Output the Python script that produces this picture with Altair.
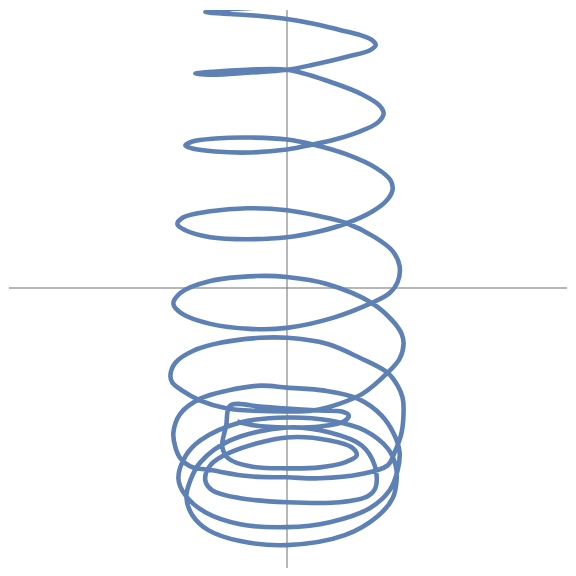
import altair as alt
import pandas as pd

# Curve points (axes cross at 287, 287)
xs = [345, 323, 287, 250, 222, 205,
      230, 260, 287, 315, 340, 360, 372, 376, 371, 347, 313, 287, 247, 213, 195,
      213, 247, 287, 330, 363, 380, 384, 378, 360, 335, 313, 287, 250, 215, 192, 185,
      192, 215, 250, 287, 313, 347, 377, 391, 393, 388, 373, 347, 320, 287, 247, 210, 185, 177,
      183, 210, 247, 287, 320, 347, 375, 393, 400, 398, 390, 372, 333, 287, 250, 210, 182, 173,
      180, 210, 257, 287, 327, 372, 393, 402, 404, 400, 388, 363, 340, 313, 287, 250, 227, 200, 182, 172, 170,
      175, 193, 220, 260, 287, 327, 360, 388, 398, 403, 404,
      402, 395, 388, 360, 320, 287, 250, 212, 190, 180, 175, 173,
      180, 200, 227, 260, 287, 325, 358, 382, 395, 400,
      398, 390, 370, 330, 287, 240, 205, 185, 178,
      185, 200, 240, 287, 330, 365, 388, 396, 397,
      393, 378, 345, 287, 240, 208, 192, 186,
      190, 200, 230, 287, 330, 362, 375, 376,
      368, 340, 287, 240, 212, 205,
      210, 230, 287, 330, 352, 357,
      345, 320, 287, 250, 228, 222,
      226, 230, 260, 287, 320, 342, 349,
      344, 320, 287, 255, 237]
ys = [-4, 0, 3, 6, 8, 10,
      12, 14, 17, 22, 28, 33, 38, 43, 48, 55, 63, 68, 71, 73, 72,
      70, 68, 68, 80, 93, 104, 112, 121, 130, 138, 143, 148, 151, 150, 147, 144,
      140, 137, 136, 138, 143, 153, 167, 179, 188, 198, 210, 222, 230, 236, 238, 236, 229, 223,
      216, 210, 207, 209, 215, 222, 236, 250, 265, 281, 292, 302, 317, 327, 328, 323, 313, 303,
      292, 280, 275, 276, 283, 302, 320, 333, 343, 358, 372, 393, 403, 410, 411, 410, 408, 400, 390, 382, 375,
      362, 350, 342, 337, 337, 343, 357, 372, 385, 397, 408,
      432, 452, 465, 474, 478, 477, 476, 470, 466, 458, 447, 432,
      413, 398, 390, 385, 387, 390, 398, 415, 435, 452,
      470, 490, 508, 522, 527, 524, 512, 495, 478,
      456, 440, 422, 417, 420, 430, 448, 465, 480,
      498, 516, 535, 545, 541, 530, 515, 497,
      480, 462, 440, 427, 432, 445, 465, 487,
      496, 502, 502, 498, 490, 480,
      465, 452, 437, 440, 447, 455,
      462, 467, 468, 466, 458, 446,
      425, 405, 406, 408, 410, 411, 415,
      421, 426, 427, 425, 421]

axis_x = [287]
axis_y = [287]

df = pd.DataFrame({"i": list(range(len(xs))), "x": xs, "y": ys})
axis_df = pd.DataFrame({"ax": axis_x, "ay": axis_y})

xscale = alt.Scale(domain=[8, 568], nice=False, zero=False)
yscale = alt.Scale(domain=[568, 8], nice=False, zero=False)

curve = alt.Chart(df).mark_line(
    color="#5E81B5", strokeWidth=4.6, interpolate="catmull-rom", clip=True
).encode(
    x=alt.X("x:Q", scale=xscale, axis=None),
    y=alt.Y("y:Q", scale=yscale, axis=None),
    order=alt.Order("i:Q"),
)

vrule = alt.Chart(axis_df).mark_rule(color="#6e6e6e", strokeWidth=1).encode(
    x=alt.X("ax:Q", scale=xscale, axis=None)
)
hrule = alt.Chart(axis_df).mark_rule(color="#6e6e6e", strokeWidth=1).encode(
    y=alt.Y("ay:Q", scale=yscale, axis=None)
)

chart = alt.layer(vrule, hrule, curve).properties(
    width=560, height=560, padding=0
).configure_view(strokeWidth=0)

chart.save("out.html", embed_options={"renderer": "svg", "actions": False})
